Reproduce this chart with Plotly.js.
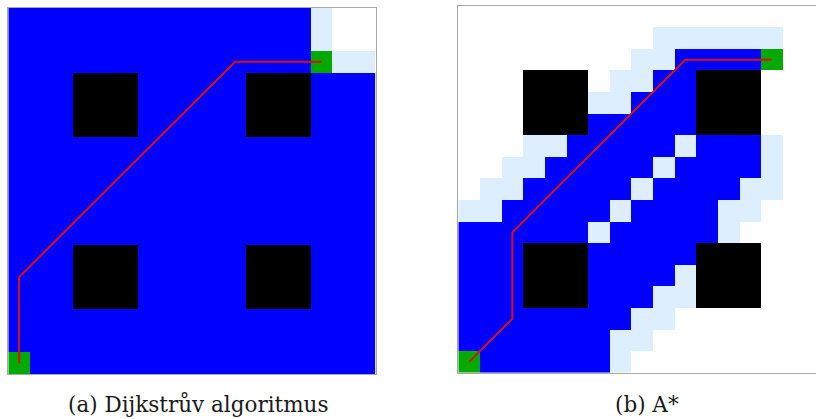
<!DOCTYPE html>
<html><head><meta charset="utf-8">
<script src="https://cdn.plot.ly/plotly-3.0.1.min.js"></script>
<style>html,body{margin:0;padding:0;background:#fff}</style>
</head><body><div id="chart" style="width:816px;height:419px"></div>
<script>
// Grid cells, rows from top. W=unvisited, L=open (frontier), B=closed, K=obstacle, G=start/goal
const gridDijkstra = [
  "BBBBBBBBBBBBBBLWW",
  "BBBBBBBBBBBBBBLWW",
  "BBBBBBBBBBBBBBGLL",
  "BBBKKKBBBBBKKKBBB",
  "BBBKKKBBBBBKKKBBB",
  "BBBKKKBBBBBKKKBBB",
  "BBBBBBBBBBBBBBBBB",
  "BBBBBBBBBBBBBBBBB",
  "BBBBBBBBBBBBBBBBB",
  "BBBBBBBBBBBBBBBBB",
  "BBBBBBBBBBBBBBBBB",
  "BBBKKKBBBBBKKKBBB",
  "BBBKKKBBBBBKKKBBB",
  "BBBKKKBBBBBKKKBBB",
  "BBBBBBBBBBBBBBBBB",
  "BBBBBBBBBBBBBBBBB",
  "GBBBBBBBBBBBBBBBB"
];
const gridAStar = [
  "WWWWWWWWWWWWWWWWW",
  "WWWWWWWWWLLLLLLWW",
  "WWWWWWWWLLBBBBGWW",
  "WWWKKKWLLBBKKKWWW",
  "WWWKKKLLBBBKKKWWW",
  "WWWKKKBBBBBKKKWWW",
  "WWWLLBBBBBLBBBLWW",
  "WWLLBBBBBLBBBBLWW",
  "WLLBBBBBLBBBBLLWW",
  "LLBBBBBLBBBBLLWWW",
  "BBBBBBLBBBBBLWWWW",
  "BBBKKKBBBBBKKKWWW",
  "BBBKKKBBBBLKKKWWW",
  "BBBKKKBBBLLKKKWWW",
  "BBBBBBBBLLWWWWWWW",
  "BBBBBBBLLWWWWWWWW",
  "GBBBBBBLWWWWWWWWW"
];
const pathDijkstraX = [0, 0, 10, 14];
const pathDijkstraY = [16, 12, 2, 2];
const pathAStarX = [0, 2, 2, 10, 14];
const pathAStarY = [16, 14, 10, 2, 2];
const captions = ["(a) Dijkstrův algoritmus", "(b) A*"];

const cellCodes = {W:0, L:1, B:2, K:3, G:4};
const cellColors = ['#ffffff', '#ddeeff', '#0000ff', '#000000', '#00aa00'];

function toZ(grid){ return grid.map(r => r.split('').map(c => cellCodes[c])); }
const idx = Array.from({length:17}, (_, i) => i);
const cs = [];
cellColors.forEach((c, i) => { cs.push([i/5, c]); cs.push([(i+1)/5, c]); });

const hm = (grid, xa, ya) => ({
  type:'heatmap', z: toZ(grid), x: idx, y: idx, xaxis: xa, yaxis: ya,
  colorscale: cs, zmin: -0.5, zmax: 4.5, showscale: false, hoverinfo: 'skip'
});
const path = (px, py, xa, ya) => ({
  type:'scatter', mode:'lines', x: px, y: py, xaxis: xa, yaxis: ya,
  line:{color:'#d81010', width:2}, hoverinfo:'skip', showlegend:false
});

const W = 816, H = 419;
const axBase = {showgrid:false, zeroline:false, showticklabels:false, ticks:'',
  showline:true, linecolor:'#a8a8a8', linewidth:1, fixedrange:true};
const cell = 21.62;
const capFont = {family:"'DejaVu Serif', 'Liberation Serif', serif", size:21.5, color:'#1a1a1a'};

const layout = {
  width: W, height: H, margin:{l:0, r:0, t:0, b:0},
  paper_bgcolor:'#fff', plot_bgcolor:'#fff', showlegend:false, hovermode:false,
  font:{family:"'DejaVu Serif', serif"},
  xaxis: Object.assign({}, axBase, {domain:[8.3/W, 375.5/W], range:[-0.5, 16.5], mirror:true, anchor:'y'}),
  yaxis: Object.assign({}, axBase, {domain:[(H-374)/H, (H-8)/H], range:[16.5, -0.5], mirror:true, anchor:'x'}),
  xaxis2: Object.assign({}, axBase, {domain:[458.3/W, 1], range:[-0.5, -0.5 + (W-458.3)/cell], mirror:true, anchor:'y2'}),
  yaxis2: Object.assign({}, axBase, {domain:[(H-372.7)/H, (H-5.7)/H], range:[16.5, -0.5], mirror:false, anchor:'x2'}),
  annotations: [
    {text: captions[0], xref:'paper', yref:'paper', x:198/W, y:(H-404)/H, xanchor:'center', yanchor:'middle',
     showarrow:false, font:capFont},
    {text: captions[1], xref:'paper', yref:'paper', x:647/W, y:(H-404)/H, xanchor:'center', yanchor:'middle',
     showarrow:false, font:capFont}
  ]
};

Plotly.newPlot('chart', [
  hm(gridDijkstra, 'x', 'y'), path(pathDijkstraX, pathDijkstraY, 'x', 'y'),
  hm(gridAStar, 'x2', 'y2'), path(pathAStarX, pathAStarY, 'x2', 'y2')
], layout, {staticPlot:true, displayModeBar:false});
</script></body></html>
